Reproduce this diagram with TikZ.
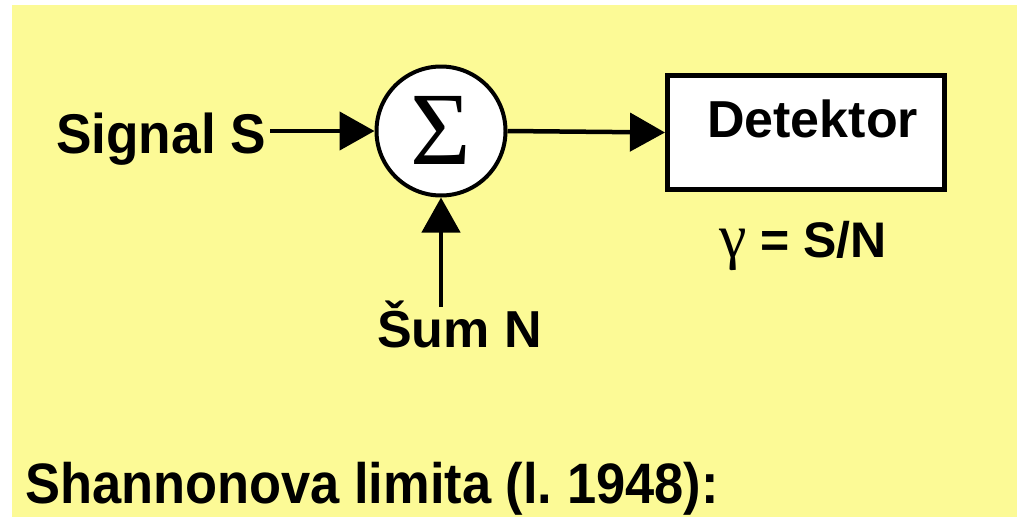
\documentclass[tikz,border=0pt]{standalone}
\usepackage{fontspec}
\setmainfont{Liberation Sans}
\newfontfamily\serifgr{Liberation Serif}
\usetikzlibrary{arrows.meta}
\definecolor{bgyellow}{RGB}{252,250,150}
\frenchspacing
\tikzset{
  lbl/.style={inner sep=0pt, anchor=base west, font=\bfseries},
  conn/.style={line width=4.5pt, -{Triangle[length=35pt,width=38pt]}},
}
\begin{document}
\begin{tikzpicture}[x=1pt,y=-1pt]
\useasboundingbox (0,0) rectangle (1019,517);
\fill[white] (0,0) rectangle (1019,517);
\fill[bgyellow] (12,5) rectangle (1017,517);

\node[circle, draw, line width=4pt, fill=white, inner sep=0pt, minimum size=129pt] (sum) at (441,131) {};
\node[inner sep=0pt] (sigma) at (441,130) {\serifgr\fontsize{104}{108}\selectfont Σ};

\node[draw, line width=5pt, fill=white, minimum width=277pt, minimum height=114pt, inner sep=0pt] (det) at (806,132.5) {};
\node[lbl] (detlabel) at (707,137) {\fontsize{52}{56}\selectfont Detektor};

\node[lbl, xscale=0.95] (sig) at (56,153) {\fontsize{56}{60}\selectfont Signal S};
\node[lbl] (noise) at (377,347) {\fontsize{52}{56}\selectfont Šum N};
\node[lbl] (snr) at (719,257) {\fontsize{50}{54}\selectfont{\serifgr\mdseries\fontsize{62}{66}\selectfont γ} = S/N};
\node[lbl, xscale=0.92] (title) at (25,503) {\fontsize{57}{61}\selectfont Shannonova limita (l. 1948):};

\coordinate (sigend) at (270,131);
\coordinate (nz) at (441,307);
\draw[conn] (sigend) -- (sum.west);
\draw[conn] (sum.east) -- (det.west);
\draw[conn] (nz) -- (sum.south);
\end{tikzpicture}
\end{document}
